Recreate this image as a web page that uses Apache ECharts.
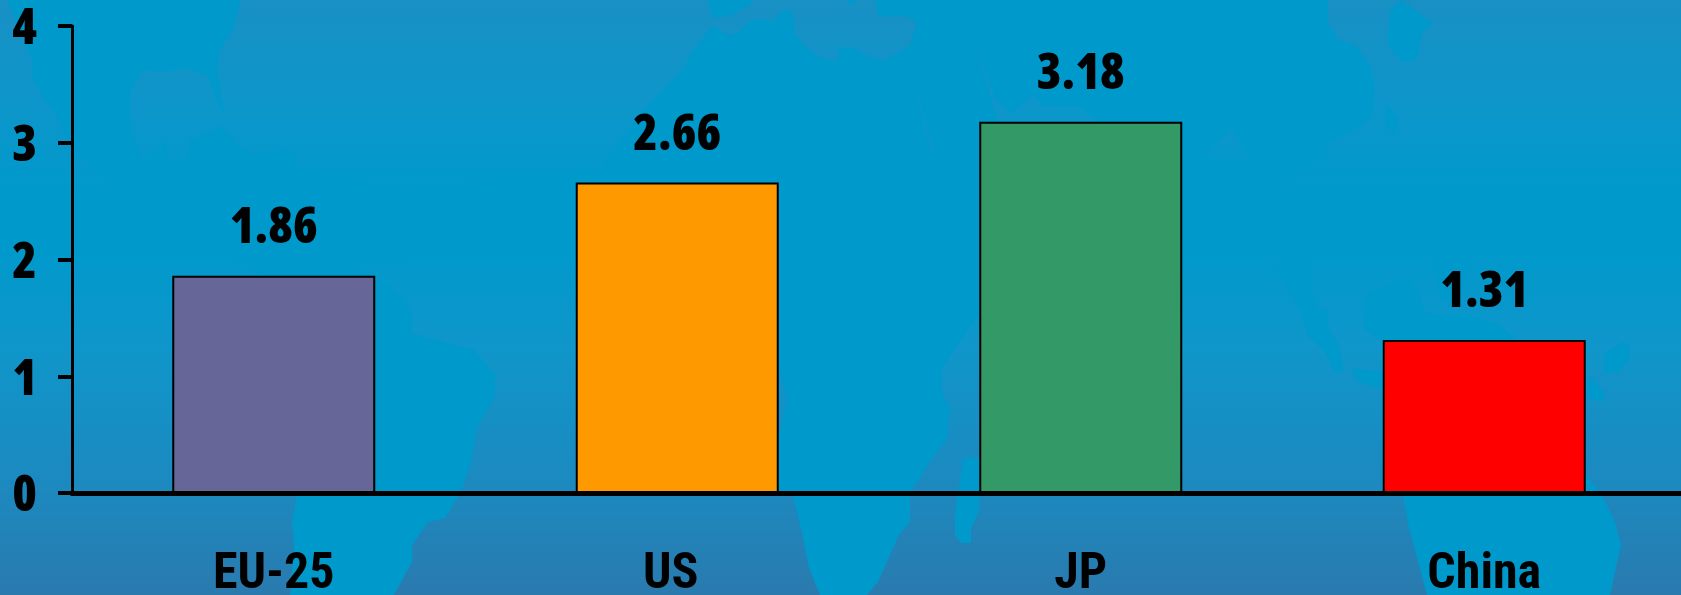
<!DOCTYPE html>
<html>
<head>
<meta charset="utf-8">
<style>
html,body{margin:0;padding:0;background:#0099cc;}
#main{width:1681px;height:595px;}
</style>
<script src="https://cdn.jsdelivr.net/npm/echarts@6/dist/echarts.min.js"></script>
</head>
<body>
<div id="main"></div>
<script>
var categories = ['EU-25', 'US', 'JP', 'China'];
var values = [1.86, 2.66, 3.18, 1.31];
var barColors = ['#666699', '#FF9900', '#339966', '#FF0000'];
var yTicks = [0, 1, 2, 3, 4];

// faint world map behind the chart, traced by hand
var oceanColor = '#0099CC';
var oceans = [
  [[7,0],[241,0],[233,30],[220,50],[217,70],[224,113],[214,123],[201,138],[220,125],[236,143],[252,155],[284,150],[295,153],[297,167],[400,190],[600,170],[643,110],[680,73],[693,50],[713,25],[727,35],[737,33],[748,22],[763,19],[772,22],[780,12],[792,10],[795,33],[803,45],[820,58],[837,62],[839,47],[853,47],[870,57],[885,61],[910,45],[917,22],[903,15],[890,17],[878,15],[875,0],[1328,0],[1328,23],[1339,40],[1355,45],[1371,67],[1375,93],[1371,117],[1355,130],[1328,143],[1325,157],[1250,200],[1050,240],[980,312],[942,368],[942,392],[950,408],[947,438],[931,460],[920,478],[910,492],[910,522],[899,535],[878,582],[867,595],[820,595],[809,568],[801,528],[793,495],[777,492],[779,438],[787,398],[777,363],[720,300],[620,240],[500,240],[380,260],[348,267],[386,283],[402,297],[412,315],[411,333],[474,350],[495,375],[495,395],[477,428],[471,462],[461,492],[445,518],[428,522],[412,545],[412,562],[394,595],[290,595],[294,545],[292,522],[297,495],[320,400],[300,300],[249,267],[225,250],[214,247],[150,215],[100,170],[70,150],[58,117],[43,97],[32,77],[33,63]],
  [[708,0],[712,18],[733,15],[752,3],[752,0]],
  [[847,0],[852,5],[857,0]],
  [[1401,0],[1433,23],[1422,33],[1417,60],[1401,62],[1387,43],[1390,10]],
  [[1385,103],[1398,117],[1395,133],[1385,127]],
  [[1277,270],[1296,243],[1312,263],[1312,292],[1317,308],[1328,312],[1328,328],[1339,345],[1344,372],[1334,372],[1325,352],[1309,337],[1301,312]],
  [[1363,305],[1368,292],[1409,277],[1419,295],[1425,312],[1441,315],[1468,315],[1500,325],[1516,340],[1380,340],[1365,330]],
  [[1435,260],[1452,240],[1468,265],[1460,300],[1440,300]],
  [[1352,368],[1385,372],[1385,390],[1358,382]],
  [[1604,355],[1621,342],[1629,345],[1629,360],[1618,373],[1604,372]],
  [[1588,375],[1604,392],[1604,402],[1588,398]],
  [[1400,470],[1586,475],[1602,495],[1615,522],[1621,545],[1610,595],[1427,595],[1409,528],[1403,495]],
  [[963,458],[979,458],[979,512],[971,528],[971,543],[961,543],[955,535],[955,515]]
];
var islands = [
  [[130,93],[143,70],[167,72],[183,68],[207,75],[217,100],[223,115],[200,138],[190,138],[187,160],[167,163],[167,140],[143,163],[133,133],[130,113]],
  [[977,50],[996,100],[1012,113],[1033,95],[1044,107],[1079,107],[1097,120],[1040,150],[1000,130]],
  [[915,87],[937,157],[953,173],[930,150]],
  [[1202,157],[1232,128],[1250,160]]
];

var landFill = new echarts.graphic.LinearGradient(0, 0, 0, 595, [
  {offset: 0, color: '#1890C4'},
  {offset: 0.18, color: '#0D96CA'},
  {offset: 0.32, color: '#0099CC'},
  {offset: 0.42, color: '#0099CC'},
  {offset: 0.58, color: '#0F96CA'},
  {offset: 0.82, color: '#1C89BF'},
  {offset: 1, color: '#2A7AAE'}
], true);

var mapElements = [{type: 'rect', silent: true, z: -10, shape: {x: 0, y: 0, width: 1681, height: 595}, style: {fill: landFill}}];
for (var i = 0; i < oceans.length; i++) {
  mapElements.push({type: 'polygon', silent: true, z: -9, shape: {points: oceans[i]}, style: {fill: oceanColor}});
}
for (var j = 0; j < islands.length; j++) {
  mapElements.push({type: 'polygon', silent: true, z: -8, shape: {points: islands[j]}, style: {fill: landFill}});
}

var barData = [];
for (var k = 0; k < values.length; k++) {
  barData.push({value: values[k], itemStyle: {color: barColors[k]}});
}

// the US label sits a bit left of its bar in the original
var catData = categories.map(function (c) {
  return c == 'US' ? {value: c, textStyle: {padding: [0, 13, 0, 0]}} : c;
});

// these go straight into the canvas font string, gives the narrow cuts
var numWeight = '800 condensed';
var numFont = '"Open Sans", sans-serif';
var catWeight = 'bold condensed';
var catFont = 'Roboto, sans-serif';

var myChart = echarts.init(document.getElementById('main'), null, {renderer: 'canvas'});
var option = {
  animation: false,
  backgroundColor: 'transparent',
  graphic: {elements: mapElements},
  grid: {left: 72, top: 26, width: 1614, height: 467, outerBoundsMode: 'none'},
  xAxis: {
    type: 'category',
    data: catData,
    axisTick: {show: false},
    axisLine: {onZero: false, lineStyle: {color: '#000', width: 5}},
    axisLabel: {color: '#000', fontFamily: catFont, fontWeight: catWeight, fontSize: 50, margin: 57, lineHeight: 50}
  },
  yAxis: {
    type: 'value',
    min: yTicks[0],
    max: yTicks[yTicks.length - 1],
    interval: 1,
    splitLine: {show: false},
    axisLine: {show: true, lineStyle: {color: '#000', width: 3}},
    axisTick: {show: true, length: 14, lineStyle: {color: '#000', width: 4}},
    // top + negative padding: moves the digits a few px below the tick
    axisLabel: {color: '#000', fontFamily: numFont, fontWeight: numWeight, fontSize: 50, margin: 35, lineHeight: 50, verticalAlign: 'top', padding: [-21, 0, 0, 0]}
  },
  series: [{
    type: 'bar',
    data: barData,
    barWidth: 203,
    itemStyle: {borderColor: '#000', borderWidth: 2},
    label: {
      show: true,
      position: 'top',
      distance: 22,
      color: '#000',
      fontFamily: numFont,
      fontWeight: numWeight,
      fontSize: 50,
      formatter: function (p) { return p.value.toFixed(2); }
    }
  }]
};
myChart.setOption(option, true);
</script>
</body>
</html>
